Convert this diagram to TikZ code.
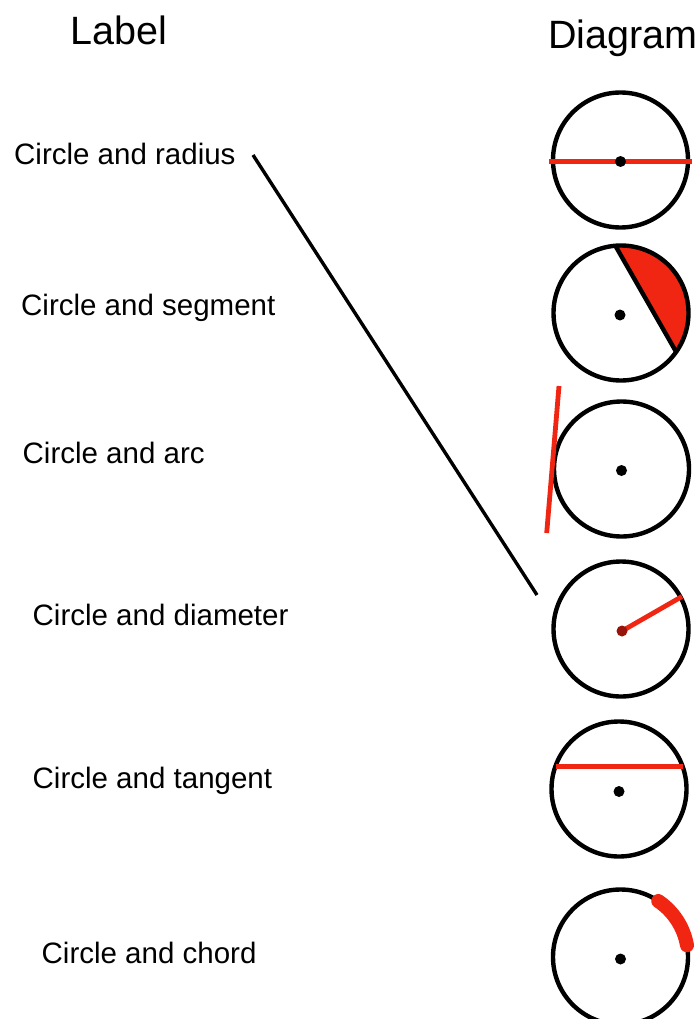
\documentclass[tikz,border=0pt]{standalone}
\usepackage{fontspec}
\setmainfont{Liberation Sans}
\definecolor{segred}{RGB}{240,38,18}
\definecolor{dotred}{RGB}{150,20,10}
\begin{document}
\begin{tikzpicture}[x=1pt,y=-1pt,
  ring/.style={draw=black,line width=4.4pt},
  redline/.style={draw=segred,line width=4.8pt},
  cdot/.style={fill=black,draw=none},
  lbl/.style={anchor=base west,inner sep=0pt,font=\fontsize{29.5}{35}\selectfont},
  head/.style={anchor=base west,inner sep=0pt,font=\fontsize{39.5}{46}\selectfont},
  conn/.style={draw=black,line width=3.4pt}]
\clip (0,0) rectangle (697,1019);
\fill[white] (0,0) rectangle (697,1019);
% headings
\node[head] (hl) at (70,45) {Label};
\node[head] (hd) at (548,49) {Diagram};
% labels
\node[lbl] (lr) at (14,165) {Circle and radius};
\node[lbl] (ls) at (21,315) {Circle and segment};
\node[lbl] (la) at (22.5,463) {Circle and arc};
\node[lbl] (ld) at (32.5,625) {Circle and diameter};
\node[lbl] (lt) at (32.5,788) {Circle and tangent};
\node[lbl] (lc) at (41.5,963) {Circle and chord};
% centres
\coordinate (o1) at (620.5,160);
\coordinate (o2) at (621,313);
\coordinate (o3) at (621.5,469);
\coordinate (o4) at (621,629);
\coordinate (o5) at (619,789);
\coordinate (o6) at (620.5,957);
% circle 1: diameter line
\draw[ring] (o1) circle[radius=67.5];
\coordinate (d1a) at (549,161.5);
\coordinate (d1b) at (692,161.5);
\draw[redline] (d1a) -- (d1b);
\fill[cdot] (o1) ++(0,1.5) circle[radius=5.5];
% circle 2: segment
\fill[segred] (o2) ++(-95:68) arc[start angle=-95,end angle=35.4,radius=68] -- cycle;
\draw[ring] (o2) circle[radius=67.5];
\path (o2) ++(-95:68) coordinate (s2a) (o2) ++(35.4:68) coordinate (s2b);
\draw[ring] (s2a) -- (s2b);
\fill[cdot] (o2) ++(-1,2) circle[radius=5.5];
% circle 3: tangent
\draw[ring] (o3) circle[radius=67.5];
\coordinate (t3a) at (559,386);
\coordinate (t3b) at (546.7,533);
\draw[redline] (t3a) -- (t3b);
\fill[cdot] (o3) ++(0,1.5) circle[radius=5.5];
% circle 4: radius
\draw[ring] (o4) circle[radius=67.5];
\coordinate (r4) at (682,596.5);
\path (o4) ++(1,2) coordinate (o4d);
\draw[redline] (o4d) -- (r4);
\fill[dotred] (o4d) circle[radius=5.5];
% circle 5: chord
\draw[ring] (o5) circle[radius=67.5];
\coordinate (c5a) at (555.5,766.7);
\coordinate (c5b) at (682.5,766.7);
\draw[redline] (c5a) -- (c5b);
\fill[cdot] (o5) ++(0,2.5) circle[radius=5.5];
% circle 6: arc
\draw[ring] (o6) circle[radius=67.5];
\draw[segred,line width=14pt,line cap=round] (o6) ++(-56:67.5) arc[start angle=-56,end angle=-10,radius=67.5];
\fill[cdot] (o6) ++(0,2) circle[radius=5.5];
% connector
\coordinate (k1) at (253,155);
\coordinate (k2) at (537,595);
\draw[conn] (k1) -- (k2);
\end{tikzpicture}
\end{document}
